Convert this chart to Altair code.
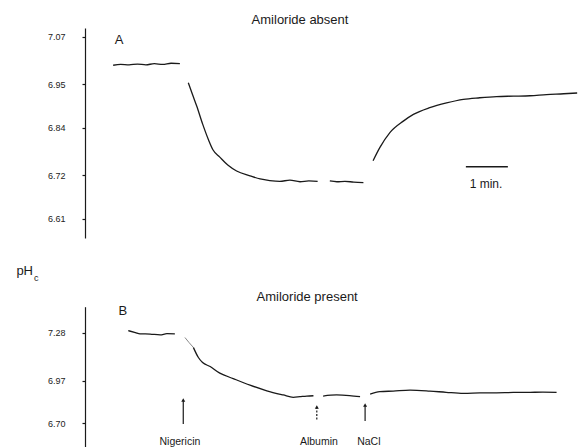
import altair as alt
import pandas as pd

FONT = "Liberation Sans"
INK = "#1a1a1a"

# ---------------- data (time in minutes, pH) ----------------
# Panel A: amiloride absent
a_seg1_t = [0.67, 0.85, 1.05, 1.25, 1.45, 1.65, 1.85, 2.05, 2.26]
a_seg1_ph = [6.998, 7.000, 6.999, 7.001, 6.999, 7.002, 7.000, 7.003, 7.002]
a_seg2_t = [2.46, 2.56, 2.66, 2.80, 2.94, 3.05, 3.21, 3.40, 3.61, 3.93, 4.17, 4.40, 4.64, 4.88, 5.12, 5.33, 5.54]
a_seg2_ph = [6.954, 6.924, 6.895, 6.850, 6.810, 6.784, 6.766, 6.746, 6.731, 6.719, 6.711, 6.707, 6.705, 6.708, 6.704, 6.706, 6.705]
a_seg3_t = [5.83, 6.00, 6.19, 6.40, 6.63]
a_seg3_ph = [6.706, 6.704, 6.705, 6.703, 6.702]
a_seg4_t = [6.86, 7.02, 7.26, 7.58, 7.82, 8.21, 8.61, 9.01, 9.40, 9.80, 10.20, 10.60, 10.99, 11.40, 11.72]
a_seg4_ph = [6.757, 6.790, 6.828, 6.857, 6.874, 6.891, 6.903, 6.912, 6.916, 6.919, 6.920, 6.921, 6.924, 6.926, 6.928]

# Panel B: amiloride present
b_seg1_t = [1.03, 1.20, 1.31, 1.55, 1.79, 1.95, 2.14]
b_seg1_ph = [7.292, 7.280, 7.272, 7.270, 7.265, 7.273, 7.271]
b_faint_t = [2.38, 2.48, 2.58]
b_faint_ph = [7.248, 7.215, 7.185]
b_seg2_t = [2.58, 2.70, 2.80, 2.98, 3.21, 3.53, 3.93, 4.33, 4.72, 4.96, 5.12, 5.28, 5.44]
b_seg2_ph = [7.185, 7.120, 7.088, 7.062, 7.020, 6.985, 6.943, 6.907, 6.880, 6.865, 6.869, 6.873, 6.875]
b_seg3_t = [5.67, 5.99, 6.30, 6.55]
b_seg3_ph = [6.873, 6.880, 6.876, 6.869]
b_seg4_t = [6.79, 7.02, 7.34, 7.74, 8.21, 8.60, 9.01, 9.40, 9.80, 10.20, 10.60, 10.90, 11.23]
b_seg4_ph = [6.886, 6.901, 6.905, 6.911, 6.905, 6.897, 6.890, 6.893, 6.894, 6.896, 6.897, 6.898, 6.897]

top_ticks = [7.07, 6.95, 6.84, 6.72, 6.61]
bottom_ticks = [7.28, 6.97, 6.70]

# additions (panel B)
add_names = ["Nigericin", "Albumin", "NaCl"]
add_t = [2.34, 5.52, 6.67]
add_head = [6.848, 6.803, 6.816]
add_base = [6.694, 6.713, 6.713]
add_label_t = [2.26, 5.57, 6.76]
add_label_ph = [6.578, 6.578, 6.578]
add_dashed = [False, True, False]

TOP_DOMAIN = [6.562, 7.092]
BOT_DOMAIN = [6.5467, 7.4455]
X_DOMAIN = [0, 11.74]

# ---------------- helpers ----------------
xenc = alt.X("t:Q", scale=alt.Scale(domain=X_DOMAIN, nice=False, zero=False), axis=None)


def mk_axis(vals):
    return alt.Axis(
        values=vals, format=".2f", title=None, orient="left", grid=False,
        domainColor=INK, domainWidth=1.2, tickColor=INK, tickWidth=1.2, tickSize=3,
        labelFont=FONT, labelFontSize=9, labelColor="#222", labelPadding=17,
    )


def ytop():
    return alt.Y("ph:Q", scale=alt.Scale(domain=TOP_DOMAIN, range=[238, 28], nice=False, zero=False),
                 axis=mk_axis(top_ticks))


def ybot():
    return alt.Y("ph:Q", scale=alt.Scale(domain=BOT_DOMAIN, range=[447, 306.7], nice=False, zero=False),
                 axis=mk_axis(bottom_ticks))


def segs(pairs):
    rows = []
    for i, (ts, ps) in enumerate(pairs):
        for t, p in zip(ts, ps):
            rows.append({"t": t, "ph": p, "seg": i})
    return pd.DataFrame(rows)


# ---------------- panel A ----------------
a_df = segs([(a_seg1_t, a_seg1_ph), (a_seg2_t, a_seg2_ph), (a_seg3_t, a_seg3_ph), (a_seg4_t, a_seg4_ph)])
a_line = alt.Chart(a_df).mark_line(color=INK, strokeWidth=1.3, interpolate="monotone").encode(
    x=xenc, y=ytop(), detail="seg:N")

a_text_df = pd.DataFrame({
    "t": [5.12, 0.81, 9.55],
    "ph": [7.112, 7.062, 6.698],
    "label": ["Amiloride absent", "A", "1 min."],
    "size": [13, 13, 12],
})
a_text = alt.Chart(a_text_df).mark_text(font=FONT, color=INK, baseline="middle", align="center").encode(
    x=xenc, y=ytop(), text="label:N",
    size=alt.Size("size:Q", scale=None, legend=None),
)

bar_df = pd.DataFrame({"t": [9.07], "t2": [10.07], "ph": [6.742]})
a_bar = alt.Chart(bar_df).mark_rule(color=INK, strokeWidth=1.4).encode(x=xenc, x2="t2:Q", y=ytop())

phc_df = pd.DataFrame({"t": [-1.238], "ph": [6.479], "label": ["pH"]})
phc_sub = pd.DataFrame({"t": [-1.214], "ph": [6.461], "label": ["c"]})
a_ph = alt.Chart(phc_df).mark_text(font=FONT, fontSize=13, color=INK, align="right", baseline="middle").encode(
    x=xenc, y=ytop(), text="label:N")
a_c = alt.Chart(phc_sub).mark_text(font=FONT, fontSize=9, color=INK, align="left", baseline="middle").encode(
    x=xenc, y=ytop(), text="label:N")

panel_a = alt.layer(a_line, a_text, a_bar, a_ph, a_c)

# ---------------- panel B ----------------
b_df = segs([(b_seg1_t, b_seg1_ph), (b_seg2_t, b_seg2_ph), (b_seg3_t, b_seg3_ph), (b_seg4_t, b_seg4_ph)])
b_line = alt.Chart(b_df).mark_line(color=INK, strokeWidth=1.3, interpolate="monotone").encode(
    x=xenc, y=ybot(), detail="seg:N")
b_faint = alt.Chart(segs([(b_faint_t, b_faint_ph)])).mark_line(color="#888", strokeWidth=1.0).encode(
    x=xenc, y=ybot())

add_df = pd.DataFrame({"name": add_names, "t": add_t, "ph": add_head, "ph2": add_base,
                       "lt": add_label_t, "lph": add_label_ph, "dashed": add_dashed})
solid = add_df[~add_df["dashed"]]
dashed = add_df[add_df["dashed"]]
b_shaft = alt.Chart(solid).mark_rule(color=INK, strokeWidth=1.2).encode(x=xenc, y=ybot(), y2="ph2:Q")
b_shaft_d = alt.Chart(dashed).mark_rule(color=INK, strokeWidth=1.2, strokeDash=[2, 1.5]).encode(
    x=xenc, y=ybot(), y2="ph2:Q")
b_head = alt.Chart(add_df).mark_point(shape="triangle-up", filled=True, color=INK, size=16, opacity=1).encode(
    x=xenc, y=ybot())
b_lab = alt.Chart(add_df).mark_text(font=FONT, fontSize=10.5, color=INK, align="center", baseline="middle").encode(
    x=alt.X("lt:Q", scale=alt.Scale(domain=X_DOMAIN, nice=False, zero=False), axis=None),
    y=alt.Y("lph:Q", scale=alt.Scale(domain=BOT_DOMAIN, range=[447, 306.7], nice=False, zero=False),
            axis=mk_axis(bottom_ticks)),
    text="name:N")

b_text_df = pd.DataFrame({"t": [5.29, 0.90], "ph": [7.508, 7.418],
                          "label": ["Amiloride present", "B"], "size": [13, 13]})
b_text = alt.Chart(b_text_df).mark_text(font=FONT, color=INK, baseline="middle", align="center").encode(
    x=xenc, y=ybot(), text="label:N", size=alt.Size("size:Q", scale=None, legend=None))

panel_b = alt.layer(b_line, b_faint, b_shaft, b_shaft_d, b_head, b_lab, b_text)

chart = (
    alt.layer(panel_a, panel_b)
    .resolve_scale(y="independent")
    .resolve_axis(y="independent")
    .properties(
        width=493, height=447,
        padding={"left": 85, "top": 0, "right": 0, "bottom": 0},
        autosize=alt.AutoSizeParams(type="none"),
        background="white",
    )
    .configure_view(stroke=None)
)

chart.save("out.html", embed_options={"renderer": "svg", "actions": False})
